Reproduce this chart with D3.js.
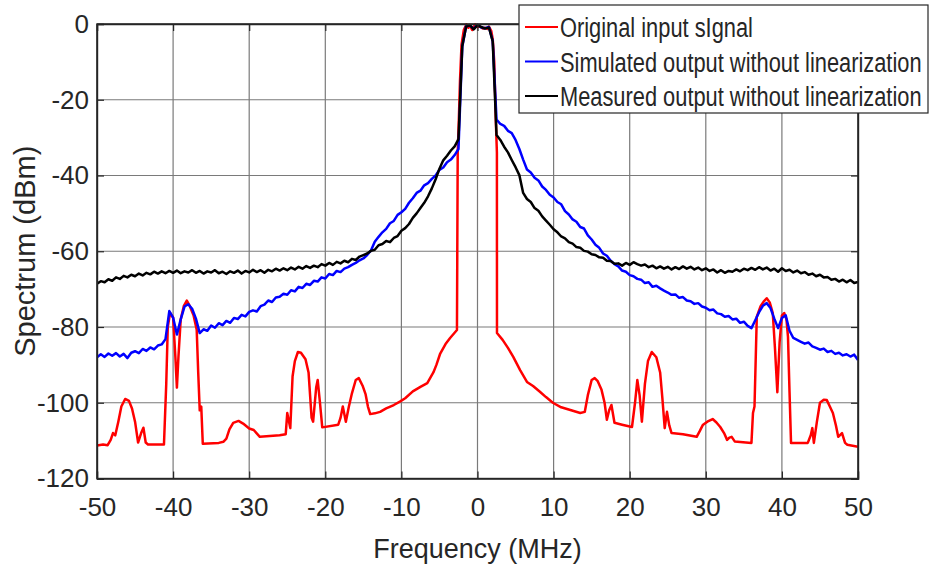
<!DOCTYPE html>
<html>
<head>
<meta charset="utf-8">
<script src="https://cdn.jsdelivr.net/npm/d3@7"></script>
<style>
  body { margin: 0; background: #fff; }
  text { font-family: "Liberation Sans", Arial, sans-serif; fill: #262626; }
</style>
</head>
<body>
<div id="wrapper"></div>
<script>
// x grid for the simulated / measured traces (MHz)
const freq = d3.range(-50, 50.001, 0.5);

// simulated output without linearization (dBm), one value per freq point
const simulated = [
  -88.0, -87.2, -87.9, -87.0, -87.6, -86.9, -87.8, -87.1, -88.2, -86.8,
  -86.4, -86.9, -85.8, -86.3, -85.4, -85.9, -84.9, -84.6, -83.2, -75.8,
  -77.5, -82.0, -78.0, -74.6, -74.0, -75.2, -77.8, -81.6, -80.6, -81.0,
  -79.6, -80.2, -79.0, -79.5, -78.4, -78.9, -77.6, -77.9, -76.8, -77.2,
  -76.0, -75.6, -75.9, -74.5, -74.1, -73.0, -73.4, -72.2, -72.0, -71.2,
  -71.5, -70.3, -70.6, -69.4, -69.7, -68.6, -68.9, -67.8, -68.0, -66.9,
  -67.2, -66.0, -66.3, -65.2, -65.5, -64.6, -64.2, -63.6, -63.1, -62.4,
  -61.9, -61.0, -59.8, -57.5, -56.2, -55.0, -54.1, -52.6, -52.0, -50.4,
  -49.7, -48.8, -47.2, -46.0, -44.6, -44.0, -42.6, -42.0, -40.9, -40.0,
  -38.5, -37.9, -36.5, -35.8, -34.6, -33.0, -6.0, -0.6, -0.4, -1.3,
  -0.2, -0.9, -1.1, -0.8, -4.5, -25.2, -26.4, -26.9, -28.2, -28.8,
  -30.6, -33.0, -35.8, -38.4, -39.2, -40.6, -41.3, -42.9, -43.8, -45.1,
  -45.8, -47.0, -47.6, -49.4, -50.3, -51.6, -52.2, -53.6, -54.0, -55.8,
  -56.9, -58.3, -59.1, -60.6, -61.2, -62.5, -63.4, -64.0, -65.1, -65.4,
  -66.3, -66.6, -67.3, -67.5, -68.4, -68.2, -69.4, -69.1, -69.8, -70.4,
  -70.9, -71.5, -71.4, -72.3, -72.1, -73.0, -73.2, -73.9, -73.7, -74.6,
  -74.9, -75.6, -75.4, -76.4, -76.6, -77.3, -77.1, -78.0, -77.8, -78.9,
  -78.6, -79.7, -80.3, -78.2, -76.1, -74.4, -73.7, -75.0, -77.8, -80.3,
  -77.6, -76.9, -81.0, -82.9, -83.4, -83.9, -84.4, -84.1, -85.1, -85.5,
  -86.0, -85.7, -86.6, -86.3, -87.1, -86.8, -87.5, -87.2, -87.8, -87.3,
  -88.7
];

// measured output without linearization (dBm), one value per freq point
const measured = [
  -68.6, -67.9, -68.2, -67.4, -67.8, -66.9, -67.3, -66.5, -66.9, -66.2,
  -66.6, -65.9, -66.4, -65.7, -66.1, -65.4, -65.9, -65.3, -65.8, -65.2,
  -65.7, -65.1, -65.8, -65.3, -65.6, -65.0, -65.7, -65.2, -65.9, -65.3,
  -65.6, -65.0, -65.8, -65.4, -66.0, -65.3, -65.7, -65.1, -65.9, -65.2,
  -65.6, -64.9, -65.5, -65.0, -65.7, -64.9, -65.3, -64.6, -65.1, -64.5,
  -65.0, -64.3, -64.8, -64.1, -64.6, -63.9, -64.4, -63.8, -64.2, -63.4,
  -63.8, -63.1, -63.6, -62.8, -63.2, -62.5, -62.9, -62.0, -62.3, -61.4,
  -61.0, -60.6, -59.9, -59.6, -58.4, -58.1, -57.3, -57.6, -56.5, -56.0,
  -54.6, -53.9, -52.8, -51.2, -50.0, -48.6, -47.2, -45.5, -43.4, -41.0,
  -38.2, -36.0, -34.8, -33.4, -32.3, -30.4, -5.8, -0.7, -0.3, -1.4,
  -0.3, -0.8, -1.2, -0.9, -4.6, -29.3, -30.6, -32.4, -33.9, -35.9,
  -37.8, -39.9, -44.6, -46.2, -47.0, -48.6, -49.3, -50.8, -51.9, -53.0,
  -54.2, -55.0, -56.1, -56.6, -57.6, -58.0, -58.9, -59.1, -59.9, -60.1,
  -60.8, -61.0, -61.6, -61.7, -62.5, -62.6, -63.3, -63.2, -63.8, -63.1,
  -63.6, -62.9, -63.4, -63.8, -63.5, -64.2, -63.8, -64.5, -64.0, -64.6,
  -64.1, -64.8, -64.2, -64.7, -64.0, -64.6, -64.1, -64.8, -64.3, -65.0,
  -64.5, -65.2, -64.8, -65.6, -65.0, -65.7, -65.2, -65.4, -64.8, -65.3,
  -64.6, -65.0, -64.4, -64.9, -64.2, -64.8, -64.3, -65.1, -64.6, -65.4,
  -64.5, -65.2, -64.9, -65.6, -65.1, -65.8, -65.5, -66.2, -65.9, -66.6,
  -66.2, -66.9, -66.8, -67.5, -67.3, -68.0, -67.5, -68.2, -67.6, -68.4,
  -68.1
];

// original input signal: read at uneven frequencies (MHz) to keep the sharp edges
const inputFreq = [
  -50, -49.2, -48.6, -48.2, -47.9, -47.6, -47.2, -46.8, -46.3, -45.8,
  -45.4, -45.0, -44.6, -44.2, -43.9, -43.6, -43.3, -41.2, -40.9, -40.7,
  -40.4, -40.0, -39.7, -39.5, -39.3, -39.0, -38.6, -38.2, -37.8, -37.3,
  -36.9, -36.7, -36.5, -36.3, -36.1, -34.0, -33.4, -33.0, -32.6, -32.1,
  -31.4, -30.8, -30.0, -29.4, -28.6, -26.0, -25.2, -25.0, -24.6, -24.3,
  -24.0, -23.6, -23.2, -22.6, -22.2, -21.8, -21.6, -21.2, -21.0, -20.7,
  -20.4, -18.3, -18.0, -17.7, -17.3, -16.9, -16.5, -16.0, -15.6, -15.1,
  -14.7, -14.4, -14.1, -13.5, -12.8, -12.0, -11.0, -10.2, -9.5, -8.5,
  -7.5, -6.6, -5.8, -5.4, -4.9, -4.2, -3.6, -2.7, -2.6, -2.45,
  -2.3, -2.1, -1.8, -1.45, -1.2, -1.0, -0.7, -0.3, 0.0, 0.3,
  0.7, 1.0, 1.3, 1.5, 1.8, 2.0, 2.2, 2.4, 2.55, 2.56,
  3.3, 4.0, 4.7, 5.6, 6.5, 7.3, 8.2, 9.0, 9.9, 11.0,
  12.2, 13.5, 14.1, 14.5, 15.0, 15.4, 15.8, 16.3, 16.7, 17.0,
  17.3, 17.6, 18.0, 19.0, 20.3, 20.7, 21.0, 21.3, 21.6, 22.0,
  22.4, 22.9, 23.5, 24.0, 24.3, 24.6, 24.9, 25.2, 25.5, 27.0,
  28.8, 29.2, 29.6, 30.2, 30.9, 31.4, 31.9, 32.4, 32.8, 33.1,
  33.4, 33.8, 36.0, 36.2, 36.4, 36.7, 37.2, 37.6, 38.0, 38.4,
  38.8, 39.1, 39.4, 39.7, 40.0, 40.3, 40.6, 40.8, 41.0, 41.2,
  43.4, 43.8, 44.0, 44.2, 44.6, 45.0, 45.5, 45.9, 46.3, 46.7,
  47.1, 47.4, 47.9, 48.3, 48.6, 50
];
const input = [
  -111.3, -111.0, -111.2, -109.8, -108.0, -108.6, -105.0, -101.0, -99.0, -99.5,
  -101.5, -105.0, -110.5, -108.0, -106.6, -110.5, -111.0, -111.0, -95.0, -80.0,
  -76.3, -77.5, -88.0, -96.0, -88.0, -78.0, -74.5, -73.0, -74.5, -77.0,
  -80.7, -92.0, -102.0, -101.0, -110.8, -110.6, -110.3, -109.5, -107.0, -105.3,
  -104.8, -105.5, -106.8, -107.2, -109.0, -108.6, -108.3, -102.7, -106.7, -93.0,
  -89.0, -86.6, -86.8, -88.5, -92.0, -104.0, -105.0, -96.0, -94.0, -100.0,
  -106.5, -105.8, -104.0, -101.0, -105.0, -101.0, -97.5, -94.0, -93.5, -95.5,
  -97.8, -101.0, -103.0, -102.8, -102.4, -101.5, -100.6, -99.7, -98.8, -97.0,
  -95.8, -94.8, -92.0, -90.0, -87.0, -84.5, -82.9, -80.8, -34.0, -25.0,
  -15.0, -5.5, -1.6, -0.1, -1.0, -0.3, -1.6, -0.1, -0.8, -0.6,
  -1.2, -1.0, -1.3, -0.7, -1.8, -4.0, -10.0, -25.0, -34.0, -81.6,
  -83.4, -85.5, -87.9, -91.4, -94.5, -95.6, -97.1, -98.5, -100.0, -101.2,
  -101.9, -102.7, -102.4, -98.0, -94.0, -93.5, -94.3, -96.6, -100.0, -104.5,
  -102.0, -100.6, -105.3, -105.8, -106.4, -100.0, -94.0, -98.0, -105.0, -95.0,
  -89.0, -86.6, -88.0, -92.0, -99.0, -106.7, -102.4, -106.0, -108.0, -108.3,
  -109.0, -107.5, -105.9, -105.0, -104.3, -105.2, -106.4, -108.0, -109.8, -109.2,
  -109.0, -110.2, -110.6, -102.7, -101.0, -77.3, -74.5, -73.3, -72.4, -73.5,
  -76.3, -86.0, -97.2, -84.0, -77.0, -76.3, -78.0, -82.6, -97.0, -110.6,
  -110.6, -108.5, -106.7, -110.6, -105.0, -100.0, -99.2, -99.3, -101.0, -102.7,
  -106.0, -109.0, -108.0, -110.6, -111.1, -111.6
];

const xTicks = [-50, -40, -30, -20, -10, 0, 10, 20, 30, 40, 50];
const yTicks = [0, -20, -40, -60, -80, -100, -120];
const seriesNames = ["Original input sIgnal", "Simulated output without linearization", "Measured output without linearization"];
const seriesColors = ["#ff0000", "#0000ff", "#000000"];

const dimensions = {
  width: 933,
  height: 569,
  margin: { top: 24, right: 75, bottom: 90.5, left: 97 }
};
dimensions.boundedWidth = dimensions.width - dimensions.margin.left - dimensions.margin.right;
dimensions.boundedHeight = dimensions.height - dimensions.margin.top - dimensions.margin.bottom;

const svg = d3.select("#wrapper").append("svg")
  .attr("width", dimensions.width)
  .attr("height", dimensions.height);

const bounds = svg.append("g")
  .attr("transform", `translate(${dimensions.margin.left},${dimensions.margin.top})`);

const xScale = d3.scaleLinear().domain([-50, 50]).range([0, dimensions.boundedWidth]);
const yScale = d3.scaleLinear().domain([-120, 0]).range([dimensions.boundedHeight, 0]);

// grid
bounds.append("g").selectAll("line").data(xTicks).join("line")
  .attr("x1", d => xScale(d)).attr("x2", d => xScale(d))
  .attr("y1", 0).attr("y2", dimensions.boundedHeight)
  .attr("stroke", "#7a7a7a").attr("stroke-width", 1.2);
bounds.append("g").selectAll("line").data(yTicks).join("line")
  .attr("y1", d => yScale(d)).attr("y2", d => yScale(d))
  .attr("x1", 0).attr("x2", dimensions.boundedWidth)
  .attr("stroke", "#7a7a7a").attr("stroke-width", 1.2);

// traces
svg.append("defs").append("clipPath").attr("id", "plotclip")
  .append("rect").attr("x", 0).attr("y", -2)
  .attr("width", dimensions.boundedWidth).attr("height", dimensions.boundedHeight + 2);

const lineGenerator = d3.line()
  .x(d => xScale(d[0]))
  .y(d => yScale(d[1]));

const traces = [
  d3.zip(inputFreq, input),
  d3.zip(freq, simulated),
  d3.zip(freq, measured)
];

const plot = bounds.append("g").attr("clip-path", "url(#plotclip)");
traces.forEach((pts, i) => {
  plot.append("path")
    .attr("d", lineGenerator(pts))
    .attr("fill", "none")
    .attr("stroke", seriesColors[i])
    .attr("stroke-width", 2.5)
    .attr("stroke-linejoin", "round");
});

// axes (ticks inward, box); plain hyphen for negatives like the original
const plainFormat = d => String(d);
const yAxis = bounds.append("g")
  .call(d3.axisLeft(yScale).tickValues(yTicks).tickSize(-7).tickPadding(8).tickFormat(plainFormat));
const xAxis = bounds.append("g")
  .attr("transform", `translate(0,${dimensions.boundedHeight})`)
  .call(d3.axisBottom(xScale).tickValues(xTicks).tickSize(-7).tickPadding(19).tickFormat(plainFormat));
bounds.append("g")
  .call(d3.axisRight(yScale).tickValues(yTicks).tickSize(-7).tickFormat(""))
  .attr("transform", `translate(${dimensions.boundedWidth},0)`);
bounds.append("g")
  .call(d3.axisTop(xScale).tickValues(xTicks).tickSize(-7).tickFormat(""));

bounds.selectAll(".domain").attr("stroke", "#262626").attr("stroke-width", 1.4);
bounds.selectAll(".tick line").attr("stroke", "#262626").attr("stroke-width", 1.2);
[yAxis, xAxis].forEach(a => a.selectAll("text")
  .style("font-size", "26px").attr("fill", "#262626")
  .style("font-family", "'Liberation Sans', Arial, sans-serif"));
xAxis.selectAll("text").attr("dy", "0.71em");

bounds.append("rect")
  .attr("width", dimensions.boundedWidth).attr("height", dimensions.boundedHeight)
  .attr("fill", "none").attr("stroke", "#262626").attr("stroke-width", 1.4);

// axis labels
svg.append("text")
  .attr("x", dimensions.margin.left + dimensions.boundedWidth / 2)
  .attr("y", 558)
  .attr("text-anchor", "middle")
  .style("font-size", "27px")
  .text("Frequency (MHz)");
svg.append("text")
  .attr("transform", `translate(35,${dimensions.margin.top + dimensions.boundedHeight / 2}) rotate(-90)`)
  .attr("text-anchor", "middle")
  .style("font-size", "29px")
  .text("Spectrum (dBm)");

// legend (text is narrow in the original, so squeeze it horizontally)
const legend = svg.append("g").attr("transform", "translate(519,5)");
legend.append("rect")
  .attr("width", 409).attr("height", 108)
  .attr("fill", "#fff").attr("stroke", "#262626").attr("stroke-width", 1.2);
seriesNames.forEach((name, i) => {
  const yy = 22 + i * 34.5;
  legend.append("line")
    .attr("x1", 6).attr("x2", 39).attr("y1", yy).attr("y2", yy)
    .attr("stroke", seriesColors[i]).attr("stroke-width", 2.2);
  legend.append("text")
    .attr("transform", `translate(41,${yy + 10}) scale(0.78,1)`)
    .style("font-size", "28px")
    .text(name);
});
</script>
</body>
</html>
